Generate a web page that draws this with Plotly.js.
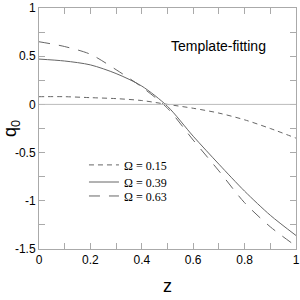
<!DOCTYPE html>
<html><head><meta charset="utf-8">
<script src="https://cdn.plot.ly/plotly-3.0.1.min.js"></script>
<style>html,body{margin:0;padding:0;background:#fff}#c{width:300px;height:300px}</style>
</head><body><div id="c"></div>
<script>
const z = [0, 0.1, 0.2, 0.3, 0.4, 0.5, 0.6, 0.7, 0.8, 0.9, 1.0];
const q015 = [0.08, 0.08, 0.07, 0.06, 0.04, 0.0, -0.04, -0.09, -0.16, -0.25, -0.35];
const q039 = [0.47, 0.45, 0.41, 0.32, 0.19, -0.02, -0.33, -0.62, -0.90, -1.15, -1.36];
const q063 = [0.65, 0.60, 0.52, 0.36, 0.18, -0.04, -0.37, -0.69, -1.02, -1.27, -1.47];
const names = ["\u03A9 = 0.15", "\u03A9 = 0.39", "\u03A9 = 0.63"];
const xTicks = [0, 0.2, 0.4, 0.6, 0.8, 1];
const yTicks = [-1.5, -1, -0.5, 0, 0.5, 1];

const col = '#666';
const traces = [
  {x: z, y: q015, name: names[0], legend: 'legend', mode: 'lines', line: {color: col, width: 1, dash: '5px,4px', shape: 'spline', smoothing: 0.8}},
  {x: z, y: q039, name: names[1], legend: 'legend2', mode: 'lines', line: {color: col, width: 1, shape: 'spline', smoothing: 0.8}},
  {x: z, y: q063, name: names[2], legend: 'legend3', mode: 'lines', line: {color: col, width: 1, dash: '11px,9px', shape: 'spline', smoothing: 0.8}},
];
const axCommon = {
  showline: true, linecolor: '#aaa', linewidth: 1, mirror: 'allticks',
  ticks: 'inside', ticklen: 6, tickcolor: '#aaa', showgrid: false, zeroline: false,
  tickfont: {family: 'Liberation Sans Narrow, Arial', size: 12, color: '#000'},
};
const legFont = {family: 'Liberation Serif, Times New Roman', size: 12, color: '#000'};
function leg(y) {
  return {x: 0.175, y: y, xanchor: 'left', yanchor: 'middle', bgcolor: 'rgba(0,0,0,0)',
    itemwidth: 30, borderwidth: 0, font: legFont};
}
const layout = {
  width: 300, height: 300,
  margin: {l: 39, r: 4, t: 8, b: 51},
  paper_bgcolor: '#fff', plot_bgcolor: '#fff',
  xaxis: Object.assign({}, axCommon, {range: [0, 1], tickvals: xTicks, ticktext: xTicks.map(String),
    minor: {ticks: 'inside', ticklen: 6, tickcolor: '#aaa', dtick: 0.1},
    title: {text: 'z', font: {family: 'Liberation Sans, Arial', size: 18, color: '#000'}, standoff: 12}}),
  yaxis: Object.assign({}, axCommon, {range: [-1.5, 1], tickvals: yTicks, ticktext: yTicks.map(String),
    minor: {ticks: 'inside', ticklen: 6, tickcolor: '#aaa', dtick: 0.25},
    title: {text: 'q<sub>0</sub>', font: {family: 'Liberation Sans, Arial', size: 18, color: '#000'}, standoff: 4}}),
  shapes: [{type: 'line', xref: 'paper', x0: 0, x1: 1, yref: 'y', y0: 0, y1: 0, line: {color: '#bbb', width: 1}}],
  showlegend: true,
  legend: leg(0.349),
  legend2: leg(0.278),
  legend3: leg(0.220),
  annotations: [{text: 'Template-fitting', xref: 'x', yref: 'y', x: 0.70, y: 0.61, showarrow: false,
    font: {family: 'Liberation Sans, Arial', size: 14, color: '#000'}}],
};
Plotly.newPlot('c', traces, layout, {staticPlot: true, displayModeBar: false});
</script></body></html>
